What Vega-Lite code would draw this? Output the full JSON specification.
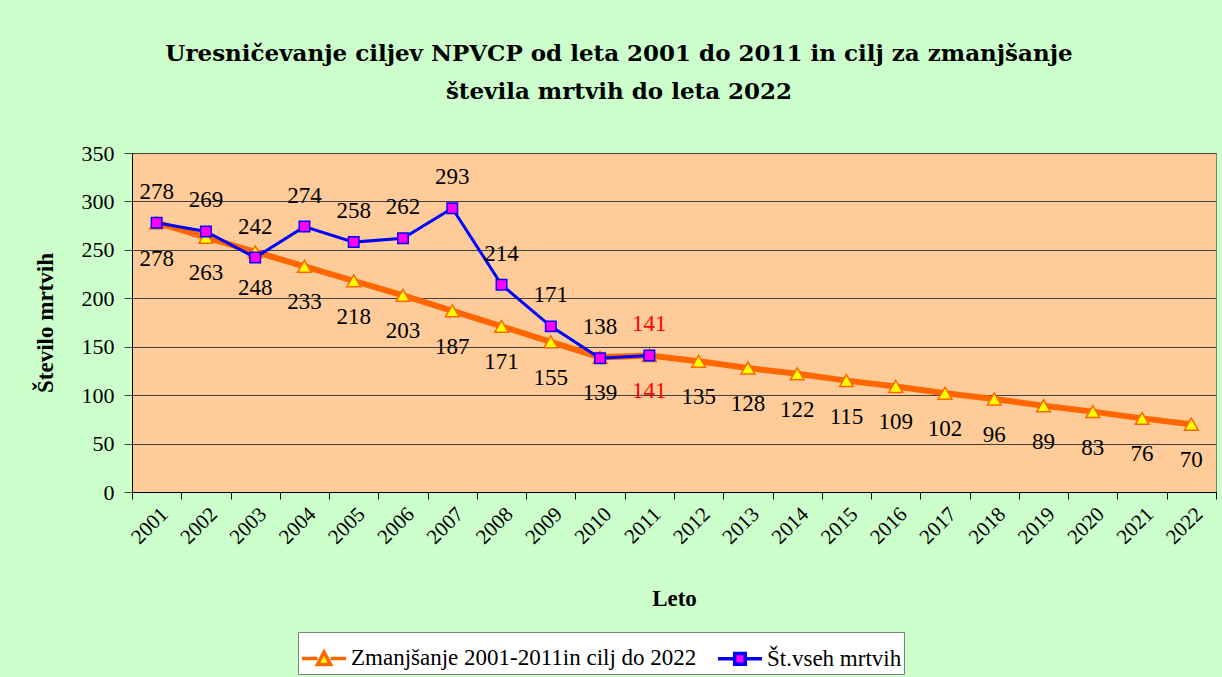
{
  "$schema": "https://vega.github.io/schema/vega-lite/v6.json",
  "autosize": "none",
  "width": 1084,
  "height": 339,
  "padding": {"left": 132, "top": 153, "right": 6, "bottom": 185},
  "background": "#CCFFCC",
  "config": {
    "view": {"fill": "#FFCC99", "stroke": "#808080", "strokeWidth": 1}
  },
  "title": {
    "text": ["Uresničevanje ciljev NPVCP od leta 2001 do 2011 in cilj za zmanjšanje", "števila mrtvih do leta 2022"],
    "font": "DejaVu Serif",
    "fontSize": 23,
    "fontWeight": "bold",
    "color": "black",
    "anchor": "middle",
    "dx": -55,
    "offset": 38,
    "lineHeight": 38
  },
  "data": {
    "values": [
      {"year": 2001, "series": "Zmanjšanje 2001-2011in cilj do 2022", "value": 278},
      {"year": 2002, "series": "Zmanjšanje 2001-2011in cilj do 2022", "value": 263},
      {"year": 2003, "series": "Zmanjšanje 2001-2011in cilj do 2022", "value": 248},
      {"year": 2004, "series": "Zmanjšanje 2001-2011in cilj do 2022", "value": 233},
      {"year": 2005, "series": "Zmanjšanje 2001-2011in cilj do 2022", "value": 218},
      {"year": 2006, "series": "Zmanjšanje 2001-2011in cilj do 2022", "value": 203},
      {"year": 2007, "series": "Zmanjšanje 2001-2011in cilj do 2022", "value": 187},
      {"year": 2008, "series": "Zmanjšanje 2001-2011in cilj do 2022", "value": 171},
      {"year": 2009, "series": "Zmanjšanje 2001-2011in cilj do 2022", "value": 155},
      {"year": 2010, "series": "Zmanjšanje 2001-2011in cilj do 2022", "value": 139},
      {"year": 2011, "series": "Zmanjšanje 2001-2011in cilj do 2022", "value": 141},
      {"year": 2012, "series": "Zmanjšanje 2001-2011in cilj do 2022", "value": 135},
      {"year": 2013, "series": "Zmanjšanje 2001-2011in cilj do 2022", "value": 128},
      {"year": 2014, "series": "Zmanjšanje 2001-2011in cilj do 2022", "value": 122},
      {"year": 2015, "series": "Zmanjšanje 2001-2011in cilj do 2022", "value": 115},
      {"year": 2016, "series": "Zmanjšanje 2001-2011in cilj do 2022", "value": 109},
      {"year": 2017, "series": "Zmanjšanje 2001-2011in cilj do 2022", "value": 102},
      {"year": 2018, "series": "Zmanjšanje 2001-2011in cilj do 2022", "value": 96},
      {"year": 2019, "series": "Zmanjšanje 2001-2011in cilj do 2022", "value": 89},
      {"year": 2020, "series": "Zmanjšanje 2001-2011in cilj do 2022", "value": 83},
      {"year": 2021, "series": "Zmanjšanje 2001-2011in cilj do 2022", "value": 76},
      {"year": 2022, "series": "Zmanjšanje 2001-2011in cilj do 2022", "value": 70},
      {"year": 2001, "series": "Št.vseh mrtvih", "value": 278},
      {"year": 2002, "series": "Št.vseh mrtvih", "value": 269},
      {"year": 2003, "series": "Št.vseh mrtvih", "value": 242},
      {"year": 2004, "series": "Št.vseh mrtvih", "value": 274},
      {"year": 2005, "series": "Št.vseh mrtvih", "value": 258},
      {"year": 2006, "series": "Št.vseh mrtvih", "value": 262},
      {"year": 2007, "series": "Št.vseh mrtvih", "value": 293},
      {"year": 2008, "series": "Št.vseh mrtvih", "value": 214},
      {"year": 2009, "series": "Št.vseh mrtvih", "value": 171},
      {"year": 2010, "series": "Št.vseh mrtvih", "value": 138},
      {"year": 2011, "series": "Št.vseh mrtvih", "value": 141}
    ]
  },
  "encoding": {
    "x": {
      "field": "year", "type": "ordinal",
      "scale": {"type": "band", "paddingInner": 0, "paddingOuter": 0},
      "axis": {
        "title": "Leto", "labelAngle": -45, "labelFont": "Liberation Serif", "labelFontSize": 21,
        "labelColor": "black", "titleFont": "Liberation Serif", "titleFontSize": 23, "titleFontWeight": "bold",
        "titleColor": "black", "tickBand": "extent", "tickSize": 7, "tickColor": "black", "domainColor": "black",
        "grid": false, "titlePadding": 40, "labelPadding": 4
      }
    },
    "y": {
      "field": "value", "type": "quantitative",
      "scale": {"domain": [0, 350], "nice": false},
      "axis": {
        "title": "Število mrtvih", "values": [0, 50, 100, 150, 200, 250, 300, 350],
        "labelFont": "Liberation Serif", "labelFontSize": 22, "labelColor": "black", "labelPadding": 10,
        "titleFont": "Liberation Serif", "titleFontSize": 23, "titleFontWeight": "bold", "titleColor": "black",
        "titlePadding": 24, "tickSize": 8, "tickColor": "#404040", "domainColor": "black",
        "grid": true, "gridColor": "#404040", "gridOpacity": 1
      }
    }
  },
  "layer": [
    {
      "transform": [{"filter": "datum.series === 'Zmanjšanje 2001-2011in cilj do 2022'"}],
      "mark": {"type": "line", "strokeWidth": 6},
      "encoding": {
        "stroke": {
          "field": "series", "type": "nominal",
          "scale": {"domain": ["Zmanjšanje 2001-2011in cilj do 2022", "Št.vseh mrtvih"], "range": ["#FF6600", "#0000FF"]},
          "legend": {
            "orient": "none", "legendX": 166, "legendY": 479, "direction": "horizontal", "title": null,
            "symbolType": "M-1,0H-0.3M0.3,0H1M-0.3,0.28L0,-0.28L0.3,0.28Z",
            "symbolSize": 1936, "symbolStrokeWidth": 3.5,
            "labelFont": "Liberation Serif", "labelFontSize": 23, "labelColor": "black", "labelLimit": 0,
            "labelOffset": 3, "columnPadding": 14, "fillColor": "white", "strokeColor": "#808080", "padding": 2,
            "encode": {
              "symbols": {
                "update": {
                  "fill": {"signal": "datum.index === 0 ? '#FFFF00' : '#FF00FF'"},
                  "fillOpacity": {"value": 1},
                  "shape": {"signal": "datum.index === 0 ? 'M-1,0H-0.3M0.3,0H1M-0.3,0.28L0,-0.28L0.3,0.28Z' : 'M-1,0H-0.24M0.24,0H1M-0.24,-0.24H0.24V0.24H-0.24Z'"}
                }
              }
            }
          }
        }
      }
    },
    {
      "transform": [{"filter": "datum.series === 'Zmanjšanje 2001-2011in cilj do 2022'"}],
      "mark": {"type": "point", "shape": "triangle-up", "size": 190, "filled": true, "fill": "#FFFF00", "stroke": "#FF6600", "strokeWidth": 1.5, "opacity": 1}
    },
    {
      "transform": [{"filter": "datum.series === 'Št.vseh mrtvih'"}],
      "mark": {"type": "line", "strokeWidth": 3},
      "encoding": {
        "stroke": {"field": "series", "type": "nominal"}
      }
    },
    {
      "transform": [{"filter": "datum.series === 'Št.vseh mrtvih'"}],
      "mark": {"type": "point", "shape": "square", "size": 110, "filled": true, "fill": "#FF00FF", "stroke": "#0000FF", "strokeWidth": 1.5, "opacity": 1}
    },
    {
      "transform": [{"filter": "datum.series === 'Zmanjšanje 2001-2011in cilj do 2022'"}],
      "mark": {"type": "text", "font": "Liberation Serif", "fontSize": 23, "dy": 36, "baseline": "middle"},
      "encoding": {
        "text": {"field": "value", "type": "quantitative"},
        "color": {"condition": {"test": "datum.year == 2011", "value": "#FF0000"}, "value": "black"}
      }
    },
    {
      "transform": [{"filter": "datum.series === 'Št.vseh mrtvih'"}],
      "mark": {"type": "text", "font": "Liberation Serif", "fontSize": 23, "dy": -31, "baseline": "middle"},
      "encoding": {
        "text": {"field": "value", "type": "quantitative"},
        "color": {"condition": {"test": "datum.year == 2011", "value": "#FF0000"}, "value": "black"}
      }
    }
  ]
}
